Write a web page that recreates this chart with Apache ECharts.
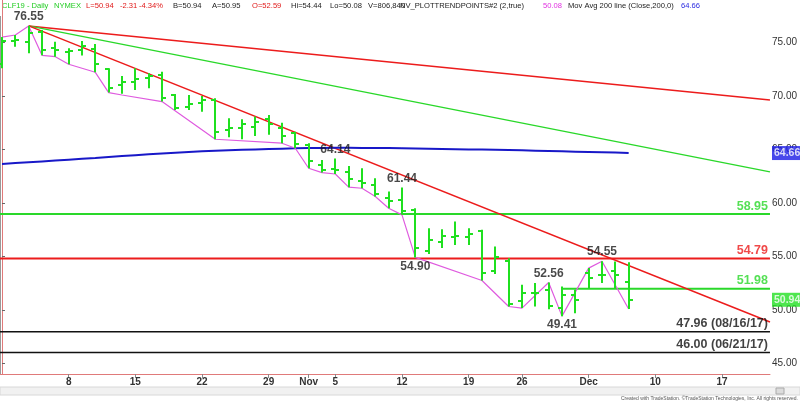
<!DOCTYPE html>
<html><head><meta charset="utf-8">
<script src="https://cdn.jsdelivr.net/npm/echarts@6/dist/echarts.min.js"></script>
<style>html,body{margin:0;padding:0;background:#fff}#c{width:800px;height:402px}</style>
</head><body><div id="c"></div>
<script>
// Trading days (index 0 = Oct 1 2018)
const days = ['Oct 1','Oct 2','Oct 3','Oct 4','Oct 5','Oct 8','Oct 9','Oct 10','Oct 11','Oct 12',
  'Oct 15','Oct 16','Oct 17','Oct 18','Oct 19','Oct 22','Oct 23','Oct 24','Oct 25','Oct 26',
  'Oct 29','Oct 30','Oct 31','Nov 1','Nov 2','Nov 5','Nov 6','Nov 7','Nov 8','Nov 9',
  'Nov 12','Nov 13','Nov 14','Nov 15','Nov 16','Nov 19','Nov 20','Nov 21','Nov 23','Nov 26',
  'Nov 27','Nov 28','Nov 29','Nov 30','Dec 3','Dec 4','Dec 5','Dec 6'];
const opens  = [73.0,75.1,75.0,76.0,74.5,74.1,74.3,74.4,72.5,71.0, 71.3,71.7,72.0,70.1,69.0,69.3,69.6,66.8,67.0,67.1, 67.8,67.0,66.5,65.4,63.5,63.2,62.9,62.0,61.7,60.5, 60.3,59.3,55.5,56.3,56.8,56.8,57.4,53.6,54.6,50.8, 51.6,51.9,50.2,51.4,53.4,53.3,53.6,52.59];
const highs  = [75.5,75.7,76.55,76.17,75.07,74.46,75.14,74.86,72.59,71.87, 72.59,72.12,72.27,70.19,70.09,70.0,69.78,67.92,67.82,68.07, 68.22,67.5,66.66,65.58,64.0,64.14,63.46,63.24,62.3,61.06, 61.44,59.5,57.63,57.54,58.25,57.63,57.48,55.92,54.83,52.34, 52.5,52.56,52.18,51.87,53.9,54.55,54.52,54.44];
const lows   = [72.6,74.6,74.0,73.8,73.67,72.96,73.77,72.21,70.31,70.2, 70.56,70.72,69.47,68.69,68.69,68.53,65.95,66.14,65.95,66.26, 66.36,65.58,65.11,63.24,62.83,62.7,61.47,61.37,60.6,59.5, 58.88,54.90,55.23,55.77,56.07,56.07,52.74,53.36,50.31,50.16, 50.31,50.06,49.41,49.69,52.03,52.5,52.03,50.08];
const closes = [75.1,75.2,75.9,74.3,74.3,74.2,74.7,73.0,70.7,71.3, 71.6,71.9,69.8,68.9,69.2,69.6,66.6,67.0,67.4,67.6, 67.4,66.3,65.5,63.9,63.1,63.1,62.2,61.9,60.8,60.2, 59.2,55.8,56.5,56.9,56.9,57.1,53.4,54.9,50.5,51.6, 51.6,50.4,51.4,50.9,53.0,53.25,53.25,50.94];
const ma200  = [63.64,63.72,63.80,63.88,63.96,64.04,64.12,64.20,64.30,64.38, 64.46,64.54,64.62,64.69,64.76,64.82,64.87,64.92,64.96,65.00, 65.04,65.07,65.10,65.12,65.14,65.15,65.15,65.14,65.13,65.12, 65.10,65.08,65.06,65.04,65.02,65.00,64.98,64.96,64.94,64.91, 64.88,64.85,64.82,64.79,64.76,64.73,64.70,64.66];
// NV_PLOTTRENDPOINTS zigzag: [day index, price]
const trendPoints = [[0,75.5],[1,75.7],[2,76.55],[3,73.8],[4,73.67],[5,72.96],[7,72.21],[8,70.31],[9,70.09],[12,69.47],
  [16,65.95],[21,65.58],[22,65.11],[23,63.24],[24,62.83],[25,62.7],[26,61.47],[27,61.37],[28,60.6],[29,59.5],
  [30,58.88],[31,54.90],[36,52.74],[38,50.31],[39,50.16],[41,52.56],[42,49.41],[44,53.9],[45,54.55],[47,50.08]];
// swing labels: [day index, price, side]
const swingLabels = [[2,76.55,'top'],[25,64.14,'top'],[30,61.44,'top'],[31,54.90,'bottom'],[41,52.56,'top'],[42,49.41,'bottom'],[45,54.55,'top']];
// x axis ticks (day index incl. future days) and labels
const xTickIdx = [5,10,15,20,23,25,30,35,39,44,49,54];
const xTickLabels = ['8','15','22','29','Nov','5','12','19','26','Dec','10','17'];
const yTicks = [45,50,55,60,65,70,75];
const xMin = -0.15, xMax = 57.6;
// trend lines from the 76.55 top to the right edge
const trendStart = [2,76.55];
const redTopEnd = 69.62;
const greenTrendEnd = 62.9;
const redSteepEnd = 48.86;
// horizontal levels
const greenLevel = 58.95;
const redLevel = 54.79;
const shortGreenLevel = 51.98, shortGreenStart = 42;
const support1 = 47.96, support1Text = '47.96 (08/16/17)';
const support2 = 46.00, support2Text = '46.00 (06/21/17)';
const lastClose = 50.94, lastMA = 64.66;

const BAR = '#1fe01f', RED = '#ec1c1c', GRN = '#2ad82a', BLUE = '#1818c8', PINK = '#df5bdf';

const ohlc = days.map((d,i)=>[i,opens[i],highs[i],lows[i],closes[i]]);
function hline(v, start){ return [[start===undefined?xMin:start, v],[xMax, v]]; }
function lineSeries(data, color, w, z){
  return {type:'line', data, symbol:'none', silent:true, z:z||2, lineStyle:{color, width:w}, animation:false};
}

const chart = echarts.init(document.getElementById('c'));
const header = [
  ['CLF19 - Daily',2,'#22cc22'],['NYMEX',54,'#22cc22'],['L=50.94',86,'#e01818'],['-2.31',120,'#e01818'],['-4.34%',139,'#e01818'],
  ['B=50.94',173,'#222'],['A=50.95',212,'#222'],['O=52.59',252,'#e01818'],['Hi=54.44',291,'#222'],['Lo=50.08',330,'#222'],
  ['V=806,840',368,'#222'],['NV_PLOTTRENDPOINTS#2 (2,true)',400,'#222'],['50.08',543,'#e030e0'],
  ['Mov Avg 200 line (Close,200,0)',568,'#222'],['64.66',681,'#2a2ae0']
];
chart.setOption({
  animation:false,
  grid:{left:0,right:30,top:0,bottom:28},
  xAxis:{type:'value',min:xMin,max:xMax,
    axisLine:{show:true,lineStyle:{color:'#e07a7a',width:1}},
    axisTick:{show:true,customValues:xTickIdx,length:4,lineStyle:{color:'#888'}},
    axisLabel:{customValues:xTickIdx,formatter:v=>xTickLabels[xTickIdx.indexOf(v)],fontSize:10,fontWeight:'bold',color:'#333',margin:3,fontFamily:'Liberation Sans, Arial'},
    splitLine:{show:false}},
  yAxis:{type:'value',position:'right',min:44.0,max:78.97,
    axisLine:{show:true,lineStyle:{color:'#e07a7a',width:1}},
    axisTick:{show:true,customValues:yTicks,length:3,lineStyle:{color:'#666'}},
    axisLabel:{customValues:yTicks,formatter:v=>v.toFixed(2),fontSize:10,color:'#333',margin:2,fontFamily:'Liberation Sans, Arial'},
    splitLine:{show:false}},
  graphic:[
    {type:'line',shape:{x1:0.5,y1:16,x2:0.5,y2:374},style:{stroke:'#999',lineWidth:1}},
    {type:'rect',shape:{x:0,y:387,width:800,height:8},style:{fill:'#f1f1f1',stroke:'#d8d8d8'}},
    {type:'rect',shape:{x:776,y:388,width:8,height:6},style:{fill:'#dcdcdc',stroke:'#aaa'}},
    {type:'text',right:2,top:396,style:{text:'Created with TradeStation. ©TradeStation Technologies, Inc. All rights reserved.',fontSize:5,fill:'#555',fontFamily:'Liberation Sans, Arial'}}
  ].concat(header.map(h=>({type:'text',left:h[1],top:2,style:{text:h[0],fontSize:7.6,fill:h[2],fontFamily:'Liberation Sans, Arial'}}))),
  series:[
    lineSeries(hline(support1),'#111',1.5,1),
    lineSeries(hline(support2),'#111',1.5,1),
    lineSeries(hline(greenLevel),GRN,2,2),
    lineSeries(hline(redLevel),RED,2,2),
    lineSeries(hline(shortGreenLevel,shortGreenStart),GRN,2,2),
    lineSeries([trendStart,[xMax,redTopEnd]],RED,1.5,2),
    lineSeries([trendStart,[xMax,greenTrendEnd]],GRN,1.5,2),
    lineSeries([trendStart,[xMax,redSteepEnd]],RED,1.5,2),
    lineSeries(ma200.map((v,i)=>[i,v]),BLUE,2,3),
    lineSeries(trendPoints,PINK,1.2,4),
    {type:'custom',z:5,data:ohlc,encode:{x:0,y:[1,2,3,4]},
      renderItem:(params,api)=>{
        const x=api.value(0);
        const o=api.coord([x,api.value(1)]), h=api.coord([x,api.value(2)]),
              l=api.coord([x,api.value(3)]), c=api.coord([x,api.value(4)]);
        const px=Math.round(h[0]);
        const st={stroke:BAR,lineWidth:2};
        return {type:'group',children:[
          {type:'line',shape:{x1:px,y1:h[1],x2:px,y2:l[1]},style:st},
          {type:'line',shape:{x1:px-4,y1:Math.round(o[1]),x2:px,y2:Math.round(o[1])},style:st},
          {type:'line',shape:{x1:px,y1:Math.round(c[1]),x2:px+4,y2:Math.round(c[1])},style:st}
        ]};
      }},
    {type:'scatter',z:10,symbolSize:0,silent:true,
      data:swingLabels.map(s=>({value:[s[0],s[1]],label:{position:s[2]}})),
      label:{show:true,formatter:p=>p.value[1].toFixed(2),fontSize:12,fontWeight:'bold',color:'#1a1a1a',distance:3,fontFamily:'Liberation Sans, Arial'}},
    {type:'scatter',z:10,symbolSize:0,silent:true,
      data:[
        {value:[xMax,greenLevel],label:{formatter:greenLevel.toFixed(2),color:GRN}},
        {value:[xMax,redLevel],label:{formatter:redLevel.toFixed(2),color:RED}},
        {value:[xMax,shortGreenLevel],label:{formatter:shortGreenLevel.toFixed(2),color:GRN}},
        {value:[xMax,support1],label:{formatter:support1Text,color:'#111'}},
        {value:[xMax,support2],label:{formatter:support2Text,color:'#111'}}
      ],
      label:{show:true,position:'left',distance:2,offset:[0,-8],fontSize:12.5,fontWeight:'bold',fontFamily:'Liberation Sans, Arial'}},
    {type:'scatter',z:12,symbolSize:0,silent:true,
      data:[
        {value:[xMax,lastMA],label:{formatter:lastMA.toFixed(2),backgroundColor:'#1a1ae6'}},
        {value:[xMax,lastClose],label:{formatter:lastClose.toFixed(2),backgroundColor:'#22e022'}}
      ],
      label:{show:true,position:'right',distance:2,color:'#fff',fontSize:10.5,fontWeight:'bold',padding:[2,2,1,2],fontFamily:'Liberation Sans, Arial'}}
  ]
});
</script></body></html>
